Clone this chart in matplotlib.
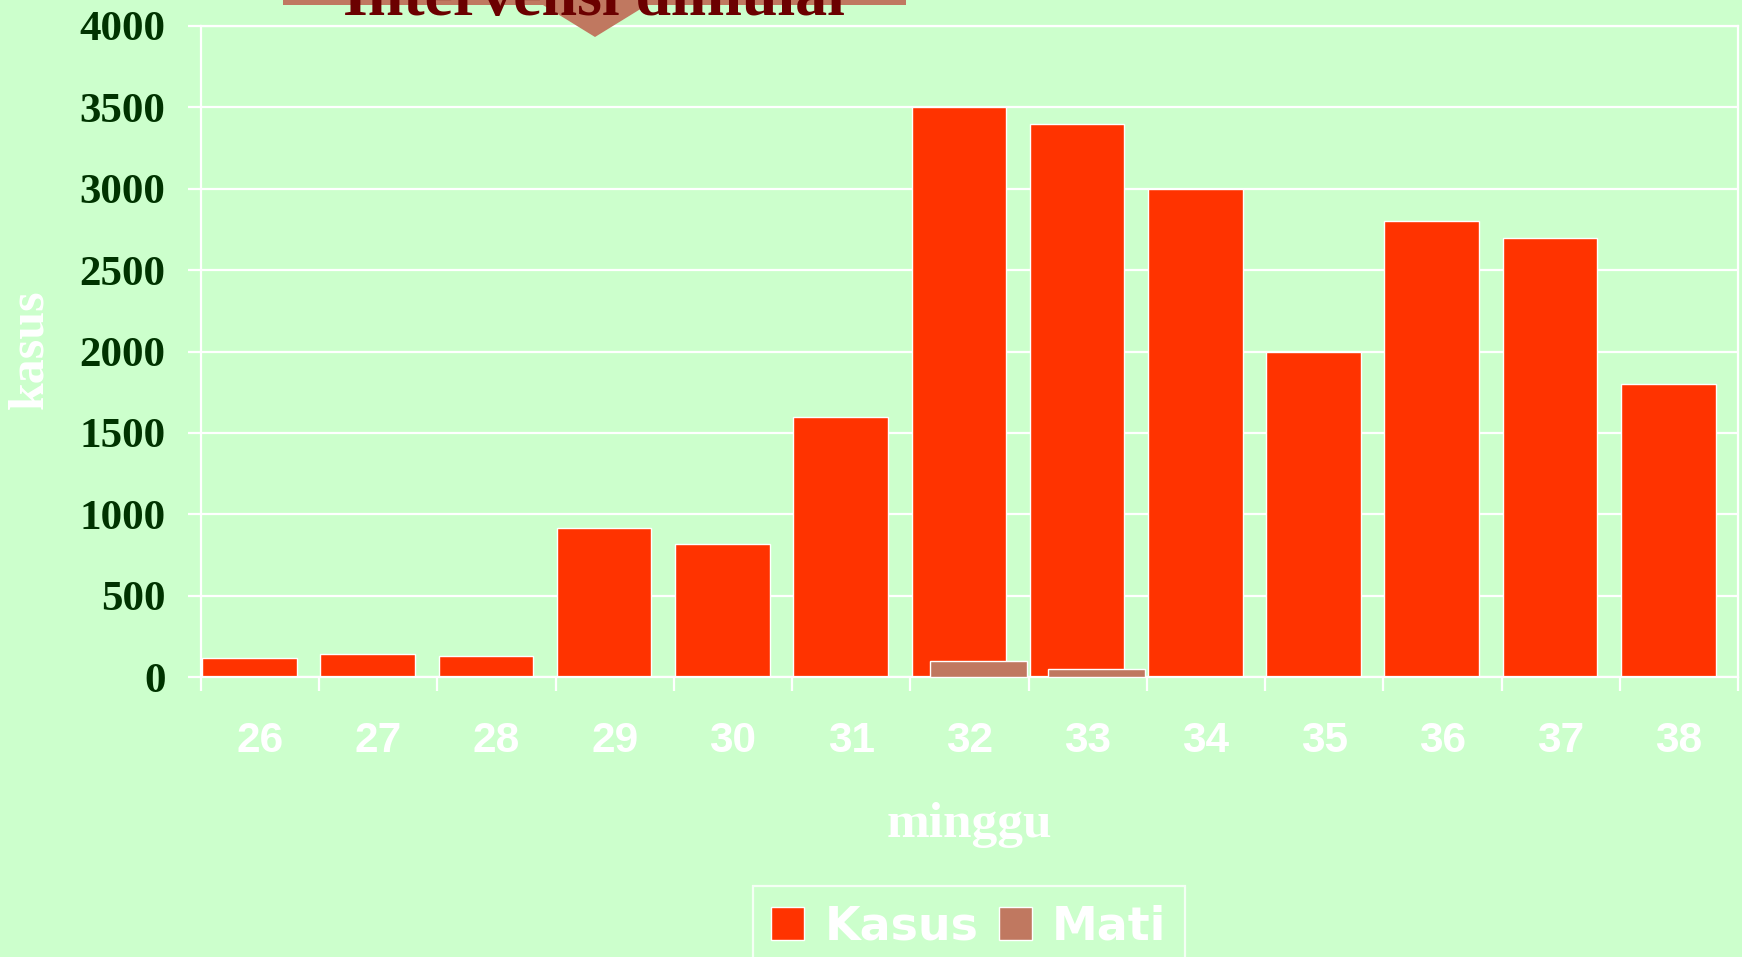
import matplotlib
matplotlib.use("Agg")
import matplotlib.pyplot as plt
from matplotlib.patches import Polygon
import numpy as np

# data
weeks = [26, 27, 28, 29, 30, 31, 32, 33, 34, 35, 36, 37, 38]
kasus = [115, 140, 130, 915, 820, 1600, 3500, 3400, 3000, 2000, 2800, 2700, 1800]
mati = [0, 0, 0, 0, 0, 0, 100, 50, 0, 0, 0, 0, 0]
yticks = [0, 500, 1000, 1500, 2000, 2500, 3000, 3500, 4000]

BG = "#CCFFCC"
RED = "#FF3300"
BROWN = "#C07860"
W, H = 1742, 957


def fx(px):
    return px / W


def fy(py):
    return 1 - py / H


fig = plt.figure(figsize=(W / 100, H / 100), dpi=100, facecolor=BG)
ax = fig.add_axes([fx(201), fy(677), fx(1738) - fx(201), fy(26) - fy(677)])
ax.set_facecolor(BG)

x = np.arange(len(weeks))
ax.bar(x - 0.09, kasus, width=0.80, color=RED, edgecolor="white",
       linewidth=1.0, zorder=2, label="Kasus")
ax.bar(x + 0.075, mati, width=0.82, color=BROWN, edgecolor="white",
       linewidth=1.0, zorder=3, label="Mati")

ax.set_xlim(-0.5, len(weeks) - 0.5)
ax.set_ylim(0, 4000)
ax.set_axisbelow(True)
ax.yaxis.grid(True, color="white", linewidth=1.6)

for s in ax.spines.values():
    s.set_color("white")
    s.set_linewidth(1.6)

ax.set_yticks(yticks)
ax.set_yticklabels([str(v) for v in yticks])
ax.tick_params(axis="y", colors="white", length=9.5, width=1.6, pad=16,
               labelcolor="#003300")
for t in ax.get_yticklabels():
    t.set_fontfamily("Liberation Serif")
    t.set_fontweight("bold")
    t.set_fontsize(31)

# boundary ticks as major, labels on minor ticks at centres
ax.set_xticks(np.arange(len(weeks) + 1) - 0.5)
ax.set_xticklabels([])
ax.set_xticks(x, minor=True)
ax.set_xticklabels([str(w) for w in weeks], minor=True)
ax.tick_params(axis="x", which="major", colors="white", length=10, width=1.6)
ax.tick_params(axis="x", which="minor", length=0, pad=31.5, labelcolor="white")
for t in ax.get_xticklabels(minor=True):
    t.set_fontfamily("Liberation Sans")
    t.set_fontweight("bold")
    t.set_fontsize(30.5)

fig.text(fx(969.5), fy(837), "minggu", ha="center", va="baseline",
         color="white", fontsize=37, fontweight="bold",
         fontfamily="Liberation Serif")
fig.text(fx(30), fy(349), "kasus", ha="center", va="center", rotation=90,
         color="white", fontsize=36, fontweight="bold",
         fontfamily="Liberation Serif")

# block arrow "Intervensi dimulai" (cut off at the top, as in the original)
arrow_px = [(283, -30), (906, -30), (906, 5), (647, 5), (595, 37),
            (543, 5), (283, 5)]
arrow = Polygon([(fx(a), fy(b)) for a, b in arrow_px], closed=True,
                transform=fig.transFigure, facecolor=BROWN, edgecolor="none",
                zorder=5)
fig.add_artist(arrow)
fig.text(fx(594), fy(15), "Intervensi dimulai", ha="center", va="baseline",
         color="#6B0000", fontsize=46, fontweight="bold",
         fontfamily="Liberation Serif", zorder=6)

leg = fig.legend(loc="upper left", bbox_to_anchor=(fx(753), fy(886)),
                 ncol=2, frameon=True, fancybox=False,
                 prop={"family": "DejaVu Sans", "weight": "bold", "size": 33},
                 handlelength=0.72, handleheight=0.72, handletextpad=0.44,
                 columnspacing=0.45, borderpad=0.4, borderaxespad=0)
leg.get_frame().set_facecolor(BG)
leg.get_frame().set_edgecolor("white")
leg.get_frame().set_linewidth(1.6)
for t in leg.get_texts():
    t.set_color("white")

fig.savefig("out.png", dpi=100, facecolor=BG)
